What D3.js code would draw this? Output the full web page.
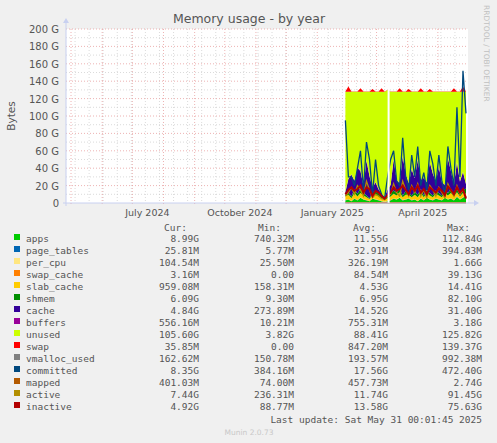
<!DOCTYPE html>
<html><head><meta charset="utf-8">
<script src="https://cdn.jsdelivr.net/npm/d3@7"></script>
<style>body{margin:0;background:#f0f0f0}svg{display:block}text{font-family:"DejaVu Sans";fill:#555}</style>
</head><body><svg id="c" width="497" height="443"></svg>
<script>
const startDate = "2025-01-29", stepDays = 3, gapDate = "2025-03-12";
const apps   =[3,4,2,5,3,6,4,3,2,5,4,3,2,1,2,3,5,4,6,3,4,5,3,4,2,5,3,6,4,3,5,4,3,6,4,5,3,7,4,6,9];
const page_tables=[.1,.1,.1,.1,.1,.1,.1,.1,.1,.1,.1,.1,.1,.1,.1,.1,.1,.1,.1,.1,.1,.1,.1,.1,.1,.1,.1,.1,.1,.1,.1,.1,.1,.1,.1,.1,.1,.1,.1,.1,.1];
const per_cpu=[.2,.2,.2,.2,.2,.2,.2,.2,.2,.2,.2,.2,.2,.2,.2,.2,.2,.2,.2,.2,.2,.2,.2,.2,.2,.2,.2,.2,.2,.2,.2,.2,.2,.2,.2,.2,.2,.2,.2,.2,.2];
const swap_cache=[.2,.2,.2,.2,.2,.2,.2,.2,.2,.2,.2,.2,.2,.2,.2,.2,.2,.2,.2,.2,.2,.2,.2,.2,.2,.2,.2,.2,.2,.2,.2,.2,.2,.2,.2,.2,.2,.2,.2,.2,.2];
const slab_cache=[4,5,3,6,4,5,4,3,2,4,5,4,3,2,3,4,5,4,6,3,5,4,3,5,4,6,3,5,4,3,5,4,3,5,4,6,4,5,3,5,1];
const shmem  =[2,3,2,4,3,5,3,2,1,3,4,3,2,1,2,3,4,3,5,2,4,3,2,4,3,5,2,4,3,2,4,3,2,4,3,5,3,4,2,4,6];
const cache  =[3,15,25,10,30,20,8,40,25,5,10,5,3,2,8,10,35,15,5,45,20,10,30,15,40,10,20,8,35,25,10,30,15,5,40,20,10,30,15,20,5];
const buffers=[.5,.5,.5,.5,.5,.5,.5,.5,.5,.5,.5,.5,.5,.5,.5,.5,.5,.5,.5,.5,.5,.5,.5,.5,.5,.5,.5,.5,.5,.5,.5,.5,.5,.5,.5,.5,.5,.5,.5,.5,.5];
const unused =[115,100,95,102,87,91,108,79,97,110,104,112,117,121,114,107,78,101,105,74,94,105,89,99,78,101,99,104,81,94,103,86,104,107,76,91,107,81,103,92,106];
const swap   =[0.3,6,0.3,0.3,0.3,4,0.3,0.3,0.3,3,0.3,0.3,4,0.3,0.3,0.3,0.3,0.3,4,0.3,0.3,3,0.3,0.3,0.3,4,0.3,0.3,3,0.3,0.3,0.3,0.3,0.3,0.3,0.3,4,0.3,0.3,6,0.3];
const vmalloc_used=[.2,.2,.2,.2,.2,.2,.2,.2,.2,.2,.2,.2,.2,.2,.2,.2,.2,.2,.2,.2,.2,.2,.2,.2,.2,.2,.2,.2,.2,.2,.2,.2,.2,.2,.2,.2,.2,.2,.2,.2,.2];
const committed=[95,30,30,20,40,60,15,70,50,10,50,20,10,5,30,50,60,25,20,75,30,15,55,30,65,20,35,15,60,45,20,55,25,10,65,40,20,110,30,152,103];
const mapped =[.5,.5,.5,.5,.5,.5,.5,.5,.5,.5,.5,.5,.5,.5,.5,.5,.5,.5,.5,.5,.5,.5,.5,.5,.5,.5,.5,.5,.5,.5,.5,.5,.5,.5,.5,.5,.5,.5,.5,.5,.5];
const active =[8,12,18,10,20,15,8,25,15,6,10,8,5,4,8,10,22,12,8,25,15,8,20,12,22,8,15,6,20,15,8,18,12,6,22,14,8,20,10,15,7];
const inactive=[10,15,18,14,16,20,12,18,16,8,14,12,8,5,9,12,18,14,16,20,15,10,18,14,20,12,16,10,18,15,12,17,14,9,19,15,10,18,12,16,5];
const yTicks=[0,20,40,60,80,100,120,140,160,180,200];
const xLabels=[["July 2024","2024-07-16"],["October 2024","2024-10-16"],["January 2025","2025-01-16"],["April 2025","2025-04-16"]];
const legend=[
 ["apps","#00CC00","8.99G","740.32M","11.55G","112.84G"],
 ["page_tables","#0066B3","25.81M","5.77M","32.91M","394.83M"],
 ["per_cpu","#FFE680","104.54M","25.50M","326.19M","1.66G"],
 ["swap_cache","#FF8000","3.16M","0.00","84.54M","39.13G"],
 ["slab_cache","#FFCC00","959.08M","158.31M","4.53G","14.41G"],
 ["shmem","#008F00","6.09G","9.30M","6.95G","82.10G"],
 ["cache","#330099","4.84G","273.89M","14.52G","31.40G"],
 ["buffers","#990099","556.16M","10.21M","755.31M","3.18G"],
 ["unused","#CCFF00","105.60G","3.82G","88.41G","125.82G"],
 ["swap","#FF0000","35.85M","0.00","847.20M","139.37G"],
 ["vmalloc_used","#808080","162.62M","150.78M","193.57M","992.38M"],
 ["committed","#00487D","8.35G","384.16M","17.56G","472.40G"],
 ["mapped","#B35A00","401.03M","74.00M","457.73M","2.74G"],
 ["active","#B38F00","7.44G","236.31M","11.74G","91.45G"],
 ["inactive","#B30000","4.92G","88.77M","13.58G","75.63G"]];

const svg=d3.select("#c");
const L=66,R=468,T=29,B=203;
const x=d3.scaleTime().domain([new Date("2024-04-26"),new Date("2025-05-31")]).range([L,R]);
const y=d3.scaleLinear().domain([0,200]).range([B,T]);
svg.append("rect").attr("x",L).attr("y",T).attr("width",R-L).attr("height",B-T).attr("fill","#fff");
const g=svg.append("g");
for(let v=10;v<=200;v+=20) g.append("line").attr("x1",L).attr("x2",R).attr("y1",y(v)).attr("y2",y(v)).attr("stroke","#ccc").attr("stroke-dasharray","1,2").attr("stroke-width",0.7);
d3.timeWeek.every(2).range(x.domain()[0],x.domain()[1]).forEach(d=>g.append("line").attr("x1",x(d)).attr("x2",x(d)).attr("y1",T).attr("y2",B).attr("stroke","#ccc").attr("stroke-dasharray","1,2").attr("stroke-width",0.7));
yTicks.forEach(v=>{if(v>0)g.append("line").attr("x1",L).attr("x2",R).attr("y1",y(v)).attr("y2",y(v)).attr("stroke","#e8a0a0").attr("stroke-dasharray","1,2").attr("stroke-width",0.8);});
d3.timeMonth.range(x.domain()[0],x.domain()[1]).forEach(d=>g.append("line").attr("x1",x(d)).attr("x2",x(d)).attr("y1",T).attr("y2",B+2).attr("stroke","#e8a0a0").attr("stroke-dasharray","1,2").attr("stroke-width",0.8));
const t0=new Date(startDate);
const dates=apps.map((_,i)=>d3.timeDay.offset(t0,i*stepDays));
const stackNames=[["apps",apps],["page_tables",page_tables],["per_cpu",per_cpu],["swap_cache",swap_cache],["slab_cache",slab_cache],["shmem",shmem],["cache",cache],["buffers",buffers],["unused",unused],["swap",swap]];
const col=Object.fromEntries(legend.map(l=>[l[0],l[1]]));
const rows=dates.map((d,i)=>{const o={date:d};stackNames.forEach(([n,a])=>o[n]=a[i]);return o;});
const series=d3.stack().keys(stackNames.map(s=>s[0]))(rows);
const area=d3.area().x(d=>x(d.data.date)).y0(d=>y(d[0])).y1(d=>y(d[1]));
svg.append("g").selectAll("path").data(series).join("path").attr("d",area).attr("fill",d=>col[d.key]);
const lines=[["vmalloc_used",vmalloc_used],["committed",committed],["mapped",mapped],["active",active],["inactive",inactive]];
lines.forEach(([n,a])=>{
  const ln=d3.line().x((d,i)=>x(dates[i])).y(d=>y(d));
  svg.append("path").attr("d",ln(a)).attr("fill","none").attr("stroke",col[n]).attr("stroke-width",n==="inactive"?2:1.3);
});
const gd=new Date(gapDate);
svg.append("rect").attr("x",x(gd)).attr("y",T).attr("width",x(d3.timeDay.offset(gd,2))-x(gd)).attr("height",B-T).attr("fill","#fff");
svg.append("line").attr("x1",L).attr("x2",L).attr("y1",B+3).attr("y2",T-8).attr("stroke","#c8d0f0");
svg.append("path").attr("d",`M${L-3},${T-6}L${L+3},${T-6}L${L},${T-11}Z`).attr("fill","#c8d0f0");
svg.append("line").attr("x1",L-3).attr("x2",R+6).attr("y1",B).attr("y2",B).attr("stroke","#c8d0f0");
svg.append("path").attr("d",`M${R+6},${B-3}L${R+6},${B+3}L${R+11},${B}Z`).attr("fill","#c8d0f0");
yTicks.forEach(v=>svg.append("text").attr("x",59).attr("y",y(v)+4).attr("text-anchor","end").attr("font-size",10).text(v===0?"0":v+" G"));
xLabels.forEach(([t,d])=>svg.append("text").attr("x",x(new Date(d))).attr("y",216).attr("text-anchor","middle").attr("font-size",9.5).text(t));
svg.append("text").attr("x",249).attr("y",23).attr("text-anchor","middle").attr("font-size",12.5).text("Memory usage - by year");
svg.append("text").attr("transform","translate(15,116) rotate(-90)").attr("text-anchor","middle").attr("font-size",10.5).text("Bytes");
svg.append("text").attr("transform","translate(484,5) rotate(90)").attr("font-size",7.5).style("fill","#c0c0c0").text("RRDTOOL / TOBI OETIKER");
const mono='"DejaVu Sans Mono"';
const lg=svg.append("g").attr("font-size",9.5);
[["Cur:",187],["Min:",281],["Avg:",376],["Max:",470]].forEach(([t,xx])=>lg.append("text").attr("x",xx).attr("y",231).attr("text-anchor","end").style("font-family",mono).text(t));
legend.forEach((l,i)=>{
  const yy=243+i*12;
  lg.append("rect").attr("x",14).attr("y",yy-9).attr("width",6).attr("height",6).attr("fill",l[1]);
  lg.append("text").attr("x",26).attr("y",yy-1).style("font-family",mono).text(l[0]);
  [199,294,388,482].forEach((xx,j)=>lg.append("text").attr("x",xx).attr("y",yy-1).attr("text-anchor","end").style("font-family",mono).text(l[2+j]));
});
lg.append("text").attr("x",482).attr("y",423).attr("text-anchor","end").style("font-family",mono).text("Last update: Sat May 31 00:01:45 2025");
svg.append("text").attr("x",249).attr("y",435).attr("text-anchor","middle").attr("font-size",7.5).style("fill","#c8c8c8").text("Munin 2.0.73");
</script></body></html>
